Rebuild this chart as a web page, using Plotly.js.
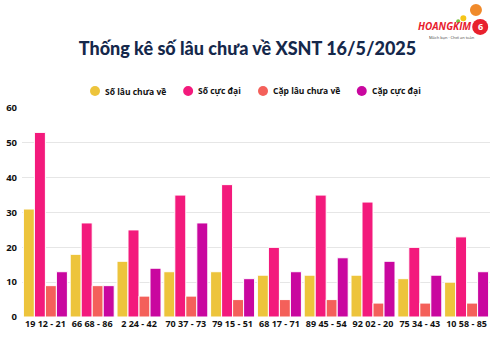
<!DOCTYPE html>
<html><head><meta charset="utf-8">
<script src="https://cdn.plot.ly/plotly-3.0.1.min.js"></script>
<style>html,body{margin:0;padding:0;background:#fff}#c{width:495px;height:345px}</style>
</head><body><div id="c"></div>
<script>
const categories = ["19 12 - 21","66 68 - 86","2 24 - 42","70 37 - 73","79 15 - 51","68 17 - 71","89 45 - 54","92 02 - 20","75 34 - 43","10 58 - 85"];
const soLauChuaVe = [31,18,16,13,13,12,12,12,11,10];
const soCucDai = [53,27,25,35,38,20,35,33,20,23];
const capLauChuaVe = [9,9,6,6,5,5,5,4,4,4];
const capCucDai = [13,9,14,27,11,13,17,16,12,13];
const seriesNames = ["Số lâu chưa về","Số cực đại","Cặp lâu chưa về","Cặp cực đại"];
const colors = ["#EDC43C","#F31A7C","#F4605A","#C9079F"];
const seriesData = [soLauChuaVe, soCucDai, capLauChuaVe, capCucDai];

const traces = seriesData.map((vals,i)=>({type:'bar', x:categories, y:vals, name:seriesNames[i], showlegend:false,
    marker:{color:colors[i], line:{color:'#fff', width:1}}, hoverinfo:'y'}));

// custom legend (circles + labels) in paper coords
const legendX = [0.156, 0.355, 0.515, 0.726];
const legendY = 1.081;
const shapes = [];
const annotations = [];
seriesNames.forEach((n,i)=>{
  shapes.push({type:'circle', xref:'paper', yref:'paper', xsizemode:'pixel', ysizemode:'pixel',
    xanchor:legendX[i], yanchor:legendY, x0:-5, x1:5, y0:-5, y1:5, fillcolor:colors[i], line:{width:0}});
  annotations.push({xref:'paper', yref:'paper', x:legendX[i], y:legendY, xanchor:'left', yanchor:'middle',
    xshift:8, showarrow:false, text:'<b>'+n+'</b>', font:{size:8.5, color:'#111'}});
});
// logo
shapes.push(
  {type:'circle', xref:'paper', yref:'paper', xsizemode:'pixel', ysizemode:'pixel', xanchor:0.979, yanchor:1.388,
   x0:-8, x1:8, y0:-8, y1:8, fillcolor:'#E8212E', line:{width:0}},
  {type:'circle', xref:'paper', yref:'paper', xsizemode:'pixel', ysizemode:'pixel', xanchor:0.970, yanchor:1.469,
   x0:-6, x1:6, y0:-6, y1:6, fillcolor:'#F08A2B', line:{width:0}},
  {type:'circle', xref:'paper', yref:'paper', xsizemode:'pixel', ysizemode:'pixel', xanchor:0.943, yanchor:1.43,
   x0:-3, x1:3, y0:-3, y1:3, fillcolor:'#F5C518', line:{width:0}},
  {type:'circle', xref:'paper', yref:'paper', xsizemode:'pixel', ysizemode:'pixel', xanchor:0.932, yanchor:1.415,
   x0:-2, x1:2, y0:-2, y1:2, fillcolor:'#7DC242', line:{width:0}}
);
annotations.push(
  {xref:'paper', yref:'paper', x:0.963, y:1.392, xanchor:'right', yanchor:'middle', showarrow:false,
   text:'<b><i>HOANGKIM</i></b>', font:{size:10, color:'#E8212E'}},
  {xref:'paper', yref:'paper', x:0.979, y:1.388, xanchor:'center', yanchor:'middle', showarrow:false,
   text:'<b>6</b>', font:{size:9, color:'#fff'}},
  {xref:'paper', yref:'paper', x:0.918, y:1.338, xanchor:'center', yanchor:'middle', showarrow:false,
   text:'Mách bạn · Chơi an toàn', font:{size:4, color:'#444'}}
);

const layout = {
  width:495, height:345,
  margin:{l:22, r:5, t:108, b:28},
  paper_bgcolor:'#fff', plot_bgcolor:'#fff',
  font:{family:'"Open Sans", sans-serif', color:'#111'},
  showlegend:false,
  title:{text:'Thống kê số lâu chưa về XSNT 16/5/2025', x:0.5, xanchor:'center', y:0.86, yanchor:'middle',
    font:{size:18, color:'#15284B', family:'Lato, "Open Sans", sans-serif', weight:900}},
  barmode:'group', bargap:0.06, bargroupgap:0,
  xaxis:{type:'category', showgrid:false, zeroline:false, showline:false, ticks:'',
    tickfont:{size:9, color:'#111', weight:700}, fixedrange:true},
  yaxis:{range:[0,60], dtick:10, showgrid:true, gridcolor:'#e6e6e6', gridwidth:1, zeroline:false,
    showline:false, ticks:'', tickfont:{size:9.5, color:'#111', weight:700}, ticklabelstandoff:4, fixedrange:true},
  shapes:shapes,
  annotations:annotations
};
Plotly.newPlot('c', traces, layout, {displayModeBar:false, staticPlot:true});
</script></body></html>
